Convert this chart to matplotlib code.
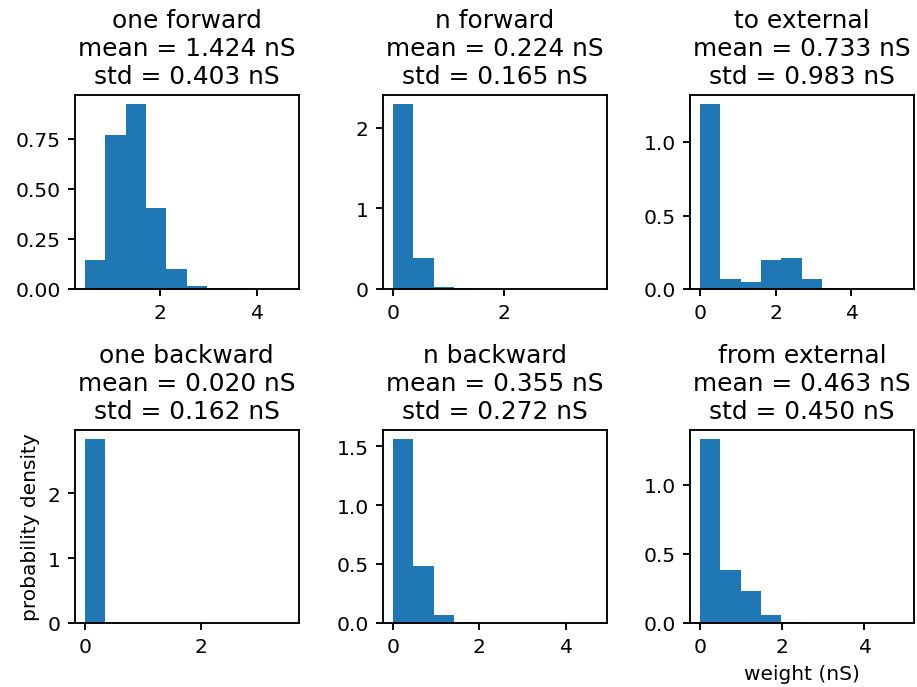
import numpy as np
import matplotlib
matplotlib.use("Agg")
import matplotlib.pyplot as plt

# ---- data ----
titles = ["one forward", "n forward", "to external",
          "one backward", "n backward", "from external"]
means = [1.424, 0.224, 0.733, 0.020, 0.355, 0.463]
stds = [0.403, 0.165, 0.983, 0.162, 0.272, 0.450]

# histogram range (min, max of data) per panel, 10 bins each
bin_lo = [0.44, 0.0, 0.0, 0.0, 0.0, 0.0]
bin_hi = [4.67, 3.68, 5.39, 3.50, 4.72, 4.96]

# probability density per bin
dens_one_forward = [0.143, 0.767, 0.922, 0.402, 0.098, 0.017, 0.006, 0.003, 0.002, 0.001]
dens_n_forward = [2.290, 0.381, 0.028, 0.008, 0.003, 0.002, 0.001, 0.001, 0.001, 0.001]
dens_to_external = [1.257, 0.068, 0.045, 0.200, 0.209, 0.068, 0.009, 0.002, 0.001, 0.001]
dens_one_backward = [2.840, 0.012, 0.004, 0.002, 0.001, 0.001, 0.001, 0.0005, 0.0005, 0.0005]
dens_n_backward = [1.562, 0.487, 0.065, 0.011, 0.003, 0.002, 0.001, 0.001, 0.0005, 0.0005]
dens_from_external = [1.330, 0.383, 0.234, 0.060, 0.010, 0.003, 0.002, 0.001, 0.0005, 0.0005]

densities = [dens_one_forward, dens_n_forward, dens_to_external,
             dens_one_backward, dens_n_backward, dens_from_external]

plt.rcParams.update({
    "font.size": 10.1,
    "axes.titlesize": 12.5,
    "axes.labelsize": 10.1,
    "xtick.labelsize": 10.2,
    "ytick.labelsize": 10.2,
    "axes.linewidth": 0.95,
    "xtick.major.width": 0.95,
    "ytick.major.width": 0.95,
})

# ---- figure ----
fig = plt.figure(figsize=(6.4, 4.8), dpi=143.3)
W, H = 917.0, 688.0
col_left = [74.5, 382.5, 689.5]
row_top = [95.7, 430.7]
row_bot = [290.0, 624.0]
ax_w = 224.5

for i in range(6):
    r, c = divmod(i, 3)
    ax = fig.add_axes([col_left[c] / W, 1 - row_bot[r] / H,
                       ax_w / W, (row_bot[r] - row_top[r]) / H])
    edges = np.linspace(bin_lo[i], bin_hi[i], 11)
    ax.hist(edges[:-1], bins=edges, weights=densities[i], color="#1f77b4")
    ax.set_title(f"{titles[i]}\nmean = {means[i]:.3f} nS\nstd = {stds[i]:.3f} nS")
    if i == 3:
        ax.set_ylabel("probability density")
    if i == 5:
        ax.set_xlabel("weight (nS)")

fig.savefig("out.png", dpi=143.3)
